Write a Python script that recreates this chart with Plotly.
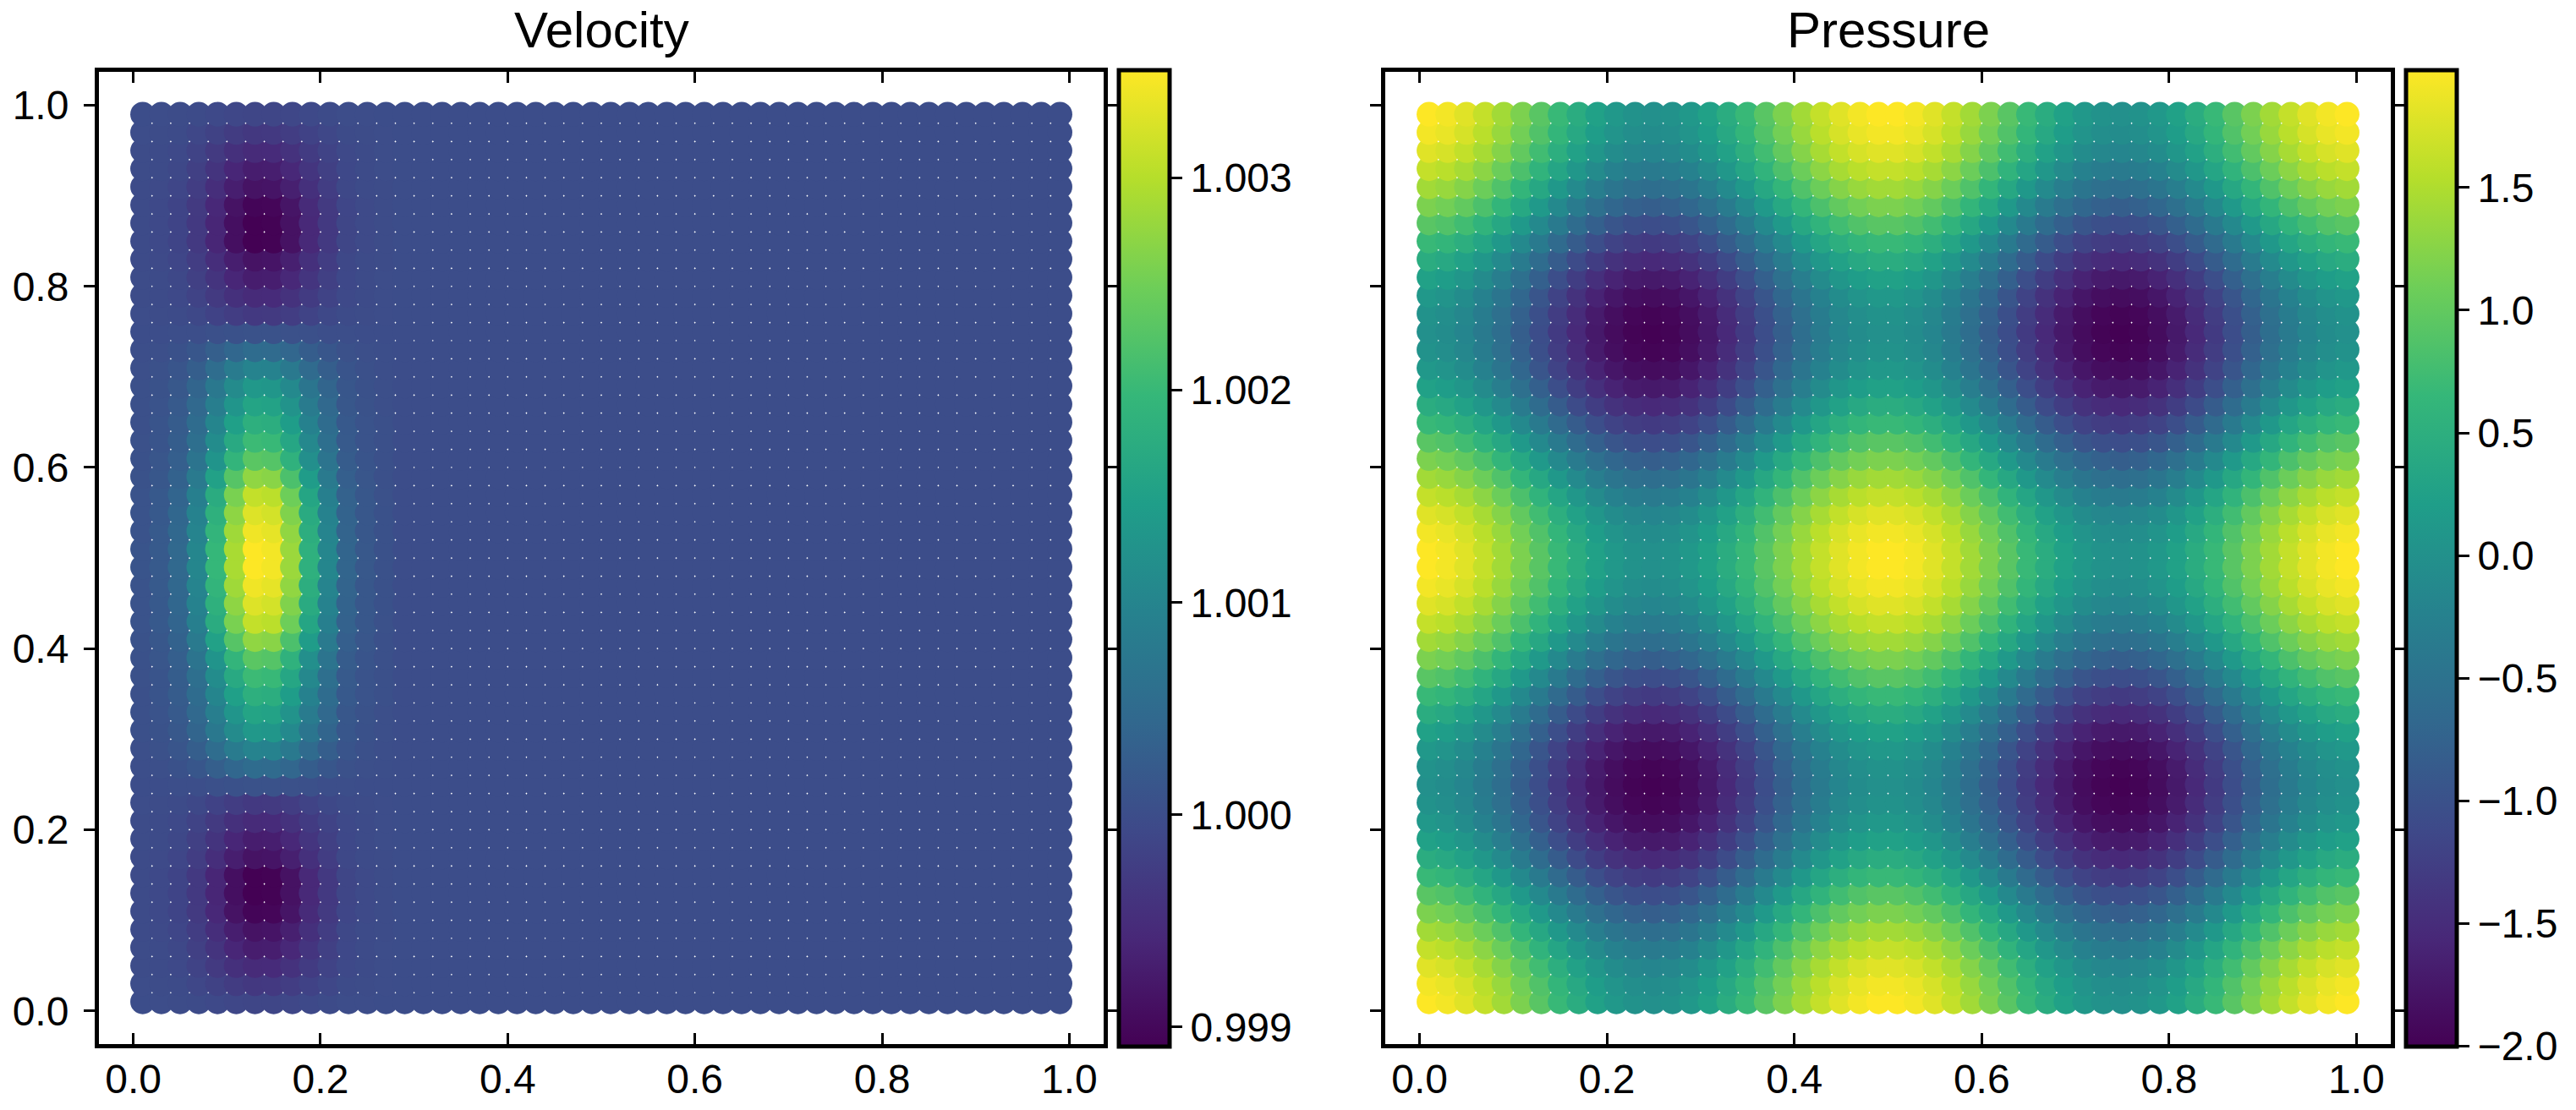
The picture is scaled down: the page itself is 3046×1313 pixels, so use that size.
import plotly.graph_objects as go

# grid centres, same for x and y
grid = [0.01, 0.03, 0.05, 0.07, 0.09, 0.11, 0.13, 0.15, 0.17, 0.19,
        0.21, 0.23, 0.25, 0.27, 0.29, 0.31, 0.33, 0.35, 0.37, 0.39,
        0.41, 0.43, 0.45, 0.47, 0.49, 0.51, 0.53, 0.55, 0.57, 0.59,
        0.61, 0.63, 0.65, 0.67, 0.69, 0.71, 0.73, 0.75, 0.77, 0.79,
        0.81, 0.83, 0.85, 0.87, 0.89, 0.91, 0.93, 0.95, 0.97, 0.99]

# velocity: rows y=0.51..0.99, columns x=0.01..0.27
velocity_near = [
    [1.00011, 1.00021, 1.00046, 1.00102, 1.00197, 1.00291, 1.00351, 1.00344, 1.00281, 1.00183, 1.00102, 1.00039, 1.00018, 1.00007],
    [1.00010, 1.00021, 1.00044, 1.00099, 1.00192, 1.00284, 1.00342, 1.00335, 1.00274, 1.00178, 1.00099, 1.00038, 1.00017, 1.00007],
    [1.00010, 1.00020, 1.00043, 1.00095, 1.00184, 1.00272, 1.00328, 1.00321, 1.00262, 1.00171, 1.00095, 1.00036, 1.00016, 1.00007],
    [1.00009, 1.00019, 1.00040, 1.00090, 1.00174, 1.00257, 1.00310, 1.00304, 1.00248, 1.00161, 1.00090, 1.00034, 1.00016, 1.00006],
    [1.00008, 1.00016, 1.00035, 1.00079, 1.00153, 1.00227, 1.00273, 1.00268, 1.00218, 1.00142, 1.00079, 1.00030, 1.00014, 1.00005],
    [1.00007, 1.00014, 1.00030, 1.00067, 1.00129, 1.00192, 1.00231, 1.00226, 1.00185, 1.00120, 1.00067, 1.00025, 1.00012, 1.00005],
    [1.00006, 1.00012, 1.00027, 1.00059, 1.00114, 1.00169, 1.00204, 1.00200, 1.00163, 1.00106, 1.00059, 1.00022, 1.00010, 1.00004],
    [1.00005, 1.00011, 1.00024, 1.00052, 1.00101, 1.00150, 1.00181, 1.00177, 1.00145, 1.00094, 1.00052, 1.00020, 1.00009, 1.00004],
    [1.00005, 1.00009, 1.00021, 1.00046, 1.00088, 1.00131, 1.00158, 1.00155, 1.00126, 1.00082, 1.00046, 1.00017, 1.00008, 1.00003],
    [1.00004, 1.00008, 1.00018, 1.00039, 1.00076, 1.00112, 1.00135, 1.00132, 1.00108, 1.00070, 1.00039, 1.00015, 1.00007, 1.00003],
    [1.00003, 1.00006, 1.00013, 1.00028, 1.00055, 1.00081, 1.00098, 1.00096, 1.00078, 1.00051, 1.00028, 1.00011, 1.00005, 1.00002],
    [1.00002, 1.00003, 1.00007, 1.00015, 1.00029, 1.00043, 1.00052, 1.00051, 1.00042, 1.00027, 1.00015, 1.00006, 1.00003, 1.00001],
    [1.00000, 1.00000, 1.00001, 1.00002, 1.00004, 1.00007, 1.00008, 1.00008, 1.00006, 1.00004, 1.00002, 1.00001, 1.00000, 1.00000],
    [0.99999, 0.99998, 0.99996, 0.99991, 0.99983, 0.99974, 0.99969, 0.99970, 0.99975, 0.99984, 0.99991, 0.99997, 0.99998, 0.99999],
    [0.99998, 0.99997, 0.99993, 0.99984, 0.99970, 0.99955, 0.99946, 0.99947, 0.99957, 0.99972, 0.99984, 0.99994, 0.99997, 0.99999],
    [0.99998, 0.99996, 0.99991, 0.99979, 0.99960, 0.99940, 0.99928, 0.99929, 0.99942, 0.99963, 0.99979, 0.99992, 0.99996, 0.99999],
    [0.99997, 0.99995, 0.99989, 0.99975, 0.99952, 0.99929, 0.99914, 0.99916, 0.99931, 0.99955, 0.99975, 0.99991, 0.99996, 0.99998],
    [0.99997, 0.99993, 0.99986, 0.99968, 0.99939, 0.99910, 0.99891, 0.99893, 0.99913, 0.99943, 0.99968, 0.99988, 0.99995, 0.99998],
    [0.99997, 0.99993, 0.99986, 0.99968, 0.99939, 0.99910, 0.99891, 0.99893, 0.99913, 0.99943, 0.99968, 0.99988, 0.99995, 0.99998],
    [0.99997, 0.99994, 0.99986, 0.99970, 0.99942, 0.99914, 0.99896, 0.99898, 0.99917, 0.99946, 0.99970, 0.99989, 0.99995, 0.99998],
    [0.99997, 0.99995, 0.99989, 0.99975, 0.99952, 0.99929, 0.99914, 0.99916, 0.99931, 0.99955, 0.99975, 0.99991, 0.99996, 0.99998],
    [0.99998, 0.99996, 0.99991, 0.99979, 0.99960, 0.99940, 0.99928, 0.99929, 0.99942, 0.99963, 0.99979, 0.99992, 0.99996, 0.99999],
    [0.99998, 0.99997, 0.99993, 0.99984, 0.99970, 0.99955, 0.99946, 0.99947, 0.99957, 0.99972, 0.99984, 0.99994, 0.99997, 0.99999],
    [0.99999, 0.99998, 0.99996, 0.99990, 0.99982, 0.99973, 0.99967, 0.99968, 0.99974, 0.99983, 0.99990, 0.99996, 0.99998, 0.99999],
    [1.00000, 0.99999, 0.99998, 0.99997, 0.99993, 0.99990, 0.99988, 0.99988, 0.99990, 0.99994, 0.99997, 0.99999, 0.99999, 1.00000],
]
velocity_far = [1.0] * 36  # everything right of x=0.27 sits on the 1.000 shade

# pressure, one period in x (25 columns)
p00 = [1.98, 1.92, 1.80, 1.63, 1.42, 1.18, 0.93, 0.68, 0.45, 0.26, 0.11, 0.02, -0.01, 0.02, 0.11, 0.26, 0.45, 0.68, 0.93, 1.18, 1.42, 1.63, 1.80, 1.92, 1.98]
p01 = [1.92, 1.86, 1.74, 1.57, 1.36, 1.12, 0.87, 0.62, 0.39, 0.20, 0.05, -0.04, -0.07, -0.04, 0.05, 0.20, 0.39, 0.62, 0.87, 1.12, 1.36, 1.57, 1.74, 1.86, 1.92]
p02 = [1.80, 1.74, 1.62, 1.45, 1.24, 1.00, 0.75, 0.50, 0.27, 0.08, -0.07, -0.16, -0.19, -0.16, -0.07, 0.08, 0.27, 0.50, 0.75, 1.00, 1.24, 1.45, 1.62, 1.74, 1.80]
p03 = [1.63, 1.57, 1.45, 1.28, 1.07, 0.83, 0.58, 0.33, 0.10, -0.09, -0.24, -0.33, -0.36, -0.33, -0.24, -0.09, 0.10, 0.33, 0.58, 0.83, 1.07, 1.28, 1.45, 1.57, 1.63]
p04 = [1.42, 1.36, 1.24, 1.07, 0.86, 0.62, 0.37, 0.12, -0.11, -0.30, -0.45, -0.54, -0.57, -0.54, -0.45, -0.30, -0.11, 0.12, 0.37, 0.62, 0.86, 1.07, 1.24, 1.36, 1.42]
p05 = [1.18, 1.12, 1.00, 0.83, 0.62, 0.38, 0.13, -0.12, -0.35, -0.54, -0.69, -0.78, -0.81, -0.78, -0.69, -0.54, -0.35, -0.12, 0.13, 0.38, 0.62, 0.83, 1.00, 1.12, 1.18]
p06 = [0.93, 0.87, 0.75, 0.58, 0.37, 0.13, -0.12, -0.37, -0.60, -0.79, -0.94, -1.03, -1.06, -1.03, -0.94, -0.79, -0.60, -0.37, -0.12, 0.13, 0.37, 0.58, 0.75, 0.87, 0.93]
p07 = [0.68, 0.62, 0.50, 0.33, 0.12, -0.12, -0.37, -0.62, -0.85, -1.04, -1.19, -1.28, -1.31, -1.28, -1.19, -1.04, -0.85, -0.62, -0.37, -0.12, 0.12, 0.33, 0.50, 0.62, 0.68]
p08 = [0.45, 0.39, 0.27, 0.10, -0.11, -0.35, -0.60, -0.85, -1.08, -1.27, -1.42, -1.51, -1.54, -1.51, -1.42, -1.27, -1.08, -0.85, -0.60, -0.35, -0.11, 0.10, 0.27, 0.39, 0.45]
p09 = [0.26, 0.20, 0.08, -0.09, -0.30, -0.54, -0.79, -1.04, -1.27, -1.46, -1.61, -1.70, -1.73, -1.70, -1.61, -1.46, -1.27, -1.04, -0.79, -0.54, -0.30, -0.09, 0.08, 0.20, 0.26]
p10 = [0.11, 0.05, -0.07, -0.24, -0.45, -0.69, -0.94, -1.19, -1.42, -1.61, -1.76, -1.85, -1.88, -1.85, -1.76, -1.61, -1.42, -1.19, -0.94, -0.69, -0.45, -0.24, -0.07, 0.05, 0.11]
p11 = [0.02, -0.04, -0.16, -0.33, -0.54, -0.78, -1.03, -1.28, -1.51, -1.70, -1.85, -1.94, -1.97, -1.94, -1.85, -1.70, -1.51, -1.28, -1.03, -0.78, -0.54, -0.33, -0.16, -0.04, 0.02]
p12 = [-0.01, -0.07, -0.19, -0.36, -0.57, -0.81, -1.06, -1.31, -1.54, -1.73, -1.88, -1.97, -2.00, -1.97, -1.88, -1.73, -1.54, -1.31, -1.06, -0.81, -0.57, -0.36, -0.19, -0.07, -0.01]
pressure_rows = [p00, p01, p02, p03, p04, p05, p06, p07, p08, p09, p10, p11, p12,
                 p11, p10, p09, p08, p07, p06, p05, p04, p03, p02, p01, p00] * 2

tick_vals = [0.0, 0.2, 0.4, 0.6, 0.8, 1.0]
velocity_ticks = [0.999, 1.000, 1.001, 1.002, 1.003]
pressure_ticks = [-2.0, -1.5, -1.0, -0.5, 0.0, 0.5, 1.0, 1.5]
titles = ['Velocity', 'Pressure']

velocity_rows = [r + velocity_far for r in velocity_near[::-1] + velocity_near]
pressure_full = [r * 2 for r in pressure_rows]

W, H = 3046, 1313
FONT = 'Liberation Sans'
AXIS_RANGE = [-0.0367, 1.0367]


def fx(px):
    return px / W


def fy(px):
    return 1 - px / H


def colorbar(left, ticks, fmt):
    return dict(x=fx(left), xanchor='left', xref='paper', xpad=0, ypad=0,
                y=fy(1237.5), yanchor='bottom', yref='paper',
                len=1154.8, lenmode='pixels',
                thickness=60, thicknessmode='pixels',
                outlinewidth=5, outlinecolor='black',
                tickvals=ticks, tickformat=fmt, ticks='outside', ticklen=13,
                tickwidth=3.4, tickcolor='black',
                tickfont=dict(family=FONT, size=48, color='black'))


def scatter(rows, cmin, cmax, cbar, xa, ya):
    xs = [x for _ in grid for x in grid]
    ys = [y for y in grid for _ in grid]
    vals = [v for r in rows for v in r]
    return go.Scatter(x=xs, y=ys, mode='markers', xaxis=xa, yaxis=ya, showlegend=False,
                      marker=dict(size=29.3, color=vals, colorscale='Viridis', cmin=cmin, cmax=cmax,
                                  line=dict(width=0), showscale=True, colorbar=cbar))


fig = go.Figure()
fig.add_trace(scatter(velocity_rows, 0.99891, 1.00351, colorbar(1322.5, velocity_ticks, '.3f'), 'x', 'y'))
fig.add_trace(scatter(pressure_full, -2.0, 1.98, colorbar(2844.5, pressure_ticks, '.1f'), 'x2', 'y2'))

axis_style = dict(range=AXIS_RANGE, tickvals=tick_vals, tickformat='.1f', showgrid=False, zeroline=False,
                  showline=True, linewidth=5, linecolor='black', mirror='allticks',
                  ticklen=13, tickwidth=3.4, tickcolor='black',
                  tickfont=dict(family=FONT, size=48, color='black'))
y_domain = [fy(1235.0), fy(85.2)]

fig.update_layout(
    width=W, height=H, autosize=False, margin=dict(l=0, r=0, t=0, b=0, pad=0),
    paper_bgcolor='white', plot_bgcolor='white',
    xaxis=dict(domain=[fx(117), fx(1305)], anchor='y', ticks='inside', ticklabelstandoff=-5, **axis_style),
    yaxis=dict(domain=y_domain, anchor='x', ticks='outside', ticklabelstandoff=8, **axis_style),
    xaxis2=dict(domain=[fx(1638), fx(2827)], anchor='y2', ticks='inside', ticklabelstandoff=-5, **axis_style),
    yaxis2=dict(domain=y_domain, anchor='x2', ticks='outside', showticklabels=False, **axis_style),
)

for title, centre in zip(titles, [711, 2232.5]):
    fig.add_annotation(text=title, x=fx(centre), y=fy(71), xref='paper', yref='paper',
                       xanchor='center', yanchor='bottom', showarrow=False,
                       font=dict(family=FONT, size=60, color='black'))

fig.write_html("out.html", config={'displayModeBar': False},
               post_script="document.body.style.margin = '0';")
